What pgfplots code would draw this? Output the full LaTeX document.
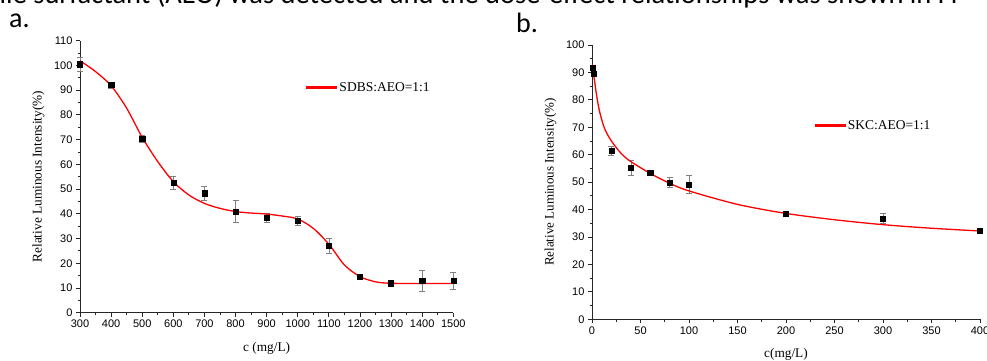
\documentclass[border=0pt]{standalone}
\usepackage{fontspec}
\setmainfont{Liberation Serif}
\newfontfamily\arialf{Liberation Sans}
\newfontfamily\calib{Carlito}
\usepackage{pgfplots}
\pgfplotsset{compat=1.18}
\usepackage{pgfplotstable}

\pgfplotstableread{
x y e
300 100.5 2.7
400 92.1 1.2
500 70.3 1.3
600 52.6 2.6
700 48.3 3.0
800 40.9 4.4
900 38.3 1.9
1000 37.2 1.7
1100 27.0 3.0
1200 14.6 0.8
1300 11.9 1.0
1400 12.9 4.4
1500 12.9 3.4
}\dataA

\pgfplotstableread{
x y
300 101.9
350 97.5
400 91.8
450 82.7
500 70.9
550 61.1
600 53.0
650 47.6
700 44.2
750 42.2
800 40.9
850 40.3
900 39.9
950 39.1
1000 37.9
1050 34.1
1100 27.7
1150 19.3
1200 14.6
1250 12.5
1300 11.9
1400 11.8
1500 11.8
}\fitA

\pgfplotstableread{
x y e
0.6 91.7 0.8
1.6 89.4 0.8
20 61.4 1.6
40 55.3 2.7
60 53.5 1.0
80 49.9 1.8
100 49.2 3.2
200 38.4 0.7
300 36.8 1.9
400 32.2 0.8
}\dataB

\pgfplotstableread{
x y
0.5 93.0
1 91.5
2 88.5
3 86.0
5 81.0
8 75.5
13 69.5
20 65.0
30 60.5
40 57.5
60 53.2
80 49.6
100 46.8
150 41.9
200 38.6
250 36.3
300 34.5
350 33.2
400 32.2
}\fitB

\pgfplotsset{
  myaxis/.style={
    scale only axis,
    anchor=south west,
    axis x line*=bottom,
    axis y line*=left,
    axis line style={black!85, line width=0.9pt},
    tick align=outside,
    major tick length=4pt,
    minor tick length=2.5pt,
    tick style={black!85, line width=0.8pt},
    minor x tick num=1,
    minor y tick num=1,
    clip=false,
    ticklabel style={font=\arialf\fontsize{11}{13}\selectfont},
    /pgf/number format/assume math mode=true,
    /pgf/number format/1000 sep={},
    label style={font=\fontsize{13.3}{15}\selectfont},
    legend style={fill=white, draw=white, inner sep=0pt, anchor=west,
      font=\fontsize{13.5}{15}\selectfont},
    legend cell align=left,
  },
  mymarks/.style={only marks, mark=square*, mark size=2.6pt, black,
    error bars/y dir=both, error bars/y explicit,
    error bars/error bar style={gray, line width=0.6pt},
    error bars/error mark options={rotate=90, mark size=3pt, gray, line width=0.6pt}},
  fitline/.style={color=red, line width=1.3pt, smooth, no marks,
    legend image code/.code={\fill[red] (0pt,-0.75pt) rectangle (30pt,0.75pt);}},
}

\begin{document}
\begin{tikzpicture}
\path[use as bounding box] (0pt,0pt) rectangle (987pt,360pt);
\clip (0pt,0pt) rectangle (987pt,360pt);

\node[anchor=base west, inner sep=0pt] at (-0.5pt,356pt) {\calib\fontsize{28.5}{30}\selectfont ile surfactant (AEO) was detected and the dose-effect relationships was shown in Fi};
\node[anchor=base west, inner sep=0pt] at (9pt,333pt) {\calib\fontsize{28}{30}\selectfont a.};
\node[anchor=base west, inner sep=0pt] at (516pt,328pt) {\calib\fontsize{28}{30}\selectfont b.};

\begin{axis}[myaxis,
  at={(80pt,47.3pt)}, width=373.3pt, height=272pt,
  xmin=300, xmax=1500, ymin=0, ymax=110,
  xtick={300,400,...,1500}, ytick={0,10,...,110},
  xlabel={c (mg/L)}, ylabel={Relative Luminous Intensity(\%)},
  xlabel style={at={(axis description cs:0.5,-0.1426)}, anchor=base},
  ylabel style={at={(axis description cs:-0.111,0.5)}, anchor=center},
  legend style={at={(axis description cs:0.6054,0.827)}},
]
\addplot[forget plot, mymarks] table[x=x, y=y, y error=e] {\dataA};
\addplot[fitline] table[x=x, y=y] {\fitA};
\addlegendentry{SDBS:AEO=1:1}
\end{axis}

\begin{axis}[myaxis,
  at={(592pt,40.7pt)}, width=388pt, height=274.3pt,
  xmin=0, xmax=400, ymin=0, ymax=100,
  xtick={0,50,...,400}, ytick={0,10,...,100},
  xlabel={c(mg/L)}, ylabel={Relative Luminous Intensity(\%)},
  xlabel style={at={(axis description cs:0.5,-0.139)}, anchor=base},
  ylabel style={at={(axis description cs:-0.107,0.5)}, anchor=center, font=\fontsize{13}{15}\selectfont},
  legend style={at={(axis description cs:0.573,0.706)}},
]
\addplot[forget plot, mymarks] table[x=x, y=y, y error=e] {\dataB};
\addplot[fitline] table[x=x, y=y] {\fitB};
\addlegendentry{SKC:AEO=1:1}
\end{axis}
\end{tikzpicture}
\end{document}
